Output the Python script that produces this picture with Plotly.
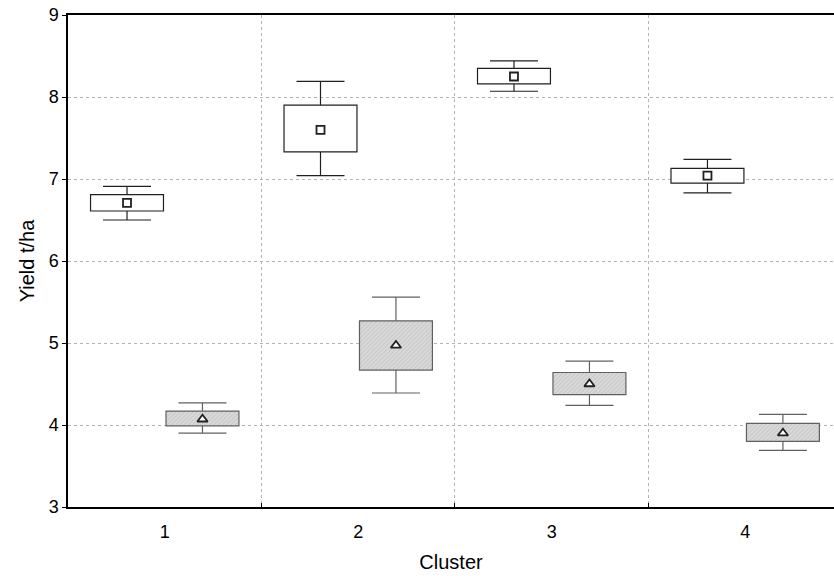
import plotly.graph_objects as go

clusters = [1, 2, 3, 4]
cluster_labels = ["1", "2", "3", "4"]

# Series A (white boxes, square mean markers)
a_mean = [6.71, 7.60, 8.25, 7.04]
a_box_lo = [6.61, 7.33, 8.16, 6.95]
a_box_hi = [6.81, 7.90, 8.35, 7.13]
a_wh_lo = [6.50, 7.04, 8.07, 6.83]
a_wh_hi = [6.91, 8.19, 8.44, 7.24]

# Series B (hatched grey boxes, triangle mean markers)
b_mean = [4.07, 4.97, 4.50, 3.90]
b_box_lo = [3.99, 4.67, 4.37, 3.80]
b_box_hi = [4.17, 5.27, 4.64, 4.02]
b_wh_lo = [3.90, 4.39, 4.24, 3.69]
b_wh_hi = [4.27, 5.56, 4.78, 4.13]

OFF = 0.195
BW = 0.377
CAP = 0.124

fig = go.Figure()


def add_series(pos, lo, hi, wlo, whi, mean, fill, line_col, pattern, symbol, msize):
    bar_kw = dict(color=fill, line=dict(color=line_col, width=1.2))
    if pattern:
        bar_kw["pattern"] = dict(shape="/", fgcolor="#a0a0a0", bgcolor=fill, size=3, solidity=0.25)
    fig.add_trace(go.Bar(x=pos, y=[h - l for l, h in zip(lo, hi)], base=lo, width=BW,
                         marker=bar_kw, showlegend=False, hoverinfo="skip"))
    xs, ys = [], []
    for p, l, h, a, b in zip(pos, lo, hi, wlo, whi):
        xs += [p, p, None, p, p, None, p - CAP, p + CAP, None, p - CAP, p + CAP, None]
        ys += [h, b, None, l, a, None, b, b, None, a, a, None]
    fig.add_trace(go.Scatter(x=xs, y=ys, mode="lines", line=dict(color=line_col, width=1.2),
                             showlegend=False, hoverinfo="skip"))
    fig.add_trace(go.Scatter(x=pos, y=mean, mode="markers",
                             marker=dict(symbol=symbol, size=msize, color="white",
                                         line=dict(color="#202020", width=1.8)),
                             showlegend=False))


a_pos = [c - OFF for c in clusters]
b_pos = [c + OFF for c in clusters]
add_series(a_pos, a_box_lo, a_box_hi, a_wh_lo, a_wh_hi, a_mean, "white", "#202020", False, "square", 8)
add_series(b_pos, b_box_lo, b_box_hi, b_wh_lo, b_wh_hi, b_mean, "#d8d8d8", "#606060", True, "triangle-up", 9)

fig.update_layout(
    width=834, height=576,
    margin=dict(l=68, r=0, t=15, b=69),
    paper_bgcolor="white", plot_bgcolor="white",
    barmode="overlay",
    font=dict(family="Liberation Sans, Arial, sans-serif", size=18, color="black"),
    showlegend=False,
    xaxis=dict(
        range=[0.5, 4.459], tickvals=clusters, ticktext=cluster_labels,
        ticks="", showgrid=False, zeroline=False,
        showline=True, linecolor="black", linewidth=1.5, mirror=True,
        ticklabelstandoff=8,
        title=dict(text="Cluster", standoff=14, font=dict(size=20)),
        tickfont=dict(size=18),
        minor=dict(tickvals=[1.5, 2.5, 3.5], showgrid=True, gridcolor="#b4b4b4",
                   griddash="dot", gridwidth=1, ticks="inside", ticklen=4, tickcolor="black"),
    ),
    yaxis=dict(
        range=[3, 9], dtick=1, tick0=3,
        showgrid=True, gridcolor="#b4b4b4", griddash="dot", gridwidth=1,
        zeroline=False, showline=True, linecolor="black", linewidth=1.5, mirror=False,
        ticks="outside", ticklen=4, tickcolor="black",
        title=dict(text="Yield t/ha", standoff=9, font=dict(size=20)),
        tickfont=dict(size=18),
    ),
)

fig.write_html("out.html", config={"displayModeBar": False},
               post_script="document.body.style.margin='0';document.body.style.overflow='hidden';")
